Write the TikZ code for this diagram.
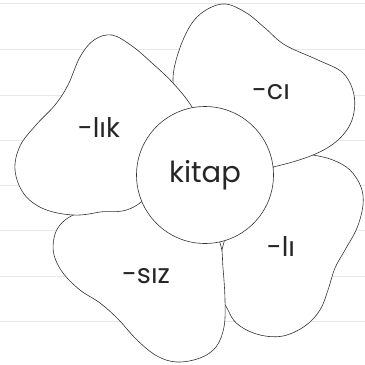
\documentclass[tikz,border=0pt]{standalone}
\usepackage{fontspec}
\setmainfont{Poppins}

\tikzset{
  petal/.style={draw=black!80, fill=white, line width=0.6pt},
  ruling/.style={draw=black!9, line width=1pt},
  word/.style={font=\fontsize{27}{31}\selectfont, text=black!85, inner sep=0pt},
}

\begin{document}
\begin{tikzpicture}[x=1pt,y=-1pt]
  \useasboundingbox (0,0) rectangle (365,365);

  % Notebook lines
  \foreach \y in {3.5,49.3,95,140.3,185.7,230.5,276,321}
    \draw[ruling] (0,\y) -- (365,\y);

  % Petals, back to front
  \def\tens{0.6}
  \draw[petal] plot[smooth cycle,tension=\tens] coordinates {
    (313,155) (333,160) (350,170) (361,187) (363,205) (357,228) (345,250)
    (335,268) (328,290) (320,310) (305,326) (283,336) (260,335) (240,326)
    (229,312) (218,278) (235,215) (290,152)};
  \draw[petal] plot[smooth cycle,tension=\tens] coordinates {
    (220,243) (223,268) (225,300) (224,327) (216,347) (200,358) (177,362)
    (157,356) (137,340) (118,319) (100,303) (80,290) (63,273) (54,255)
    (54,238) (60,225) (73,215) (105,200) (160,195) (205,220)};
  \draw[petal] plot[smooth cycle,tension=\tens] coordinates {
    (173,80) (181,45) (197,17) (222,4) (245,12) (265,28) (285,45) (318,60)
    (343,73) (354,95) (352,120) (338,140) (313,155) (273,167) (225,175)
    (183,105)};
  \draw[petal] plot[smooth cycle,tension=\tens] coordinates {
    (192,107) (173,83) (152,63) (132,46) (112,35) (94,40) (80,57) (68,85)
    (55,105) (36,125) (20,146) (15,170) (24,194) (44,209) (73,215)
    (100,212) (140,203) (205,135)};

  % Centre
  \node[petal, circle, minimum size=137pt, word, font=\fontsize{29}{33}\selectfont]
    (kitap) at (205,175) {kitap};

  % Suffixes
  \node[word] (lik) at (99,128) {-lık};
  \node[word] (ci)  at (271,92) {-cı};
  \node[word] (li)  at (281,247) {-lı};
  \node[word] (siz) at (146,276) {-sız};

\end{tikzpicture}
\end{document}
